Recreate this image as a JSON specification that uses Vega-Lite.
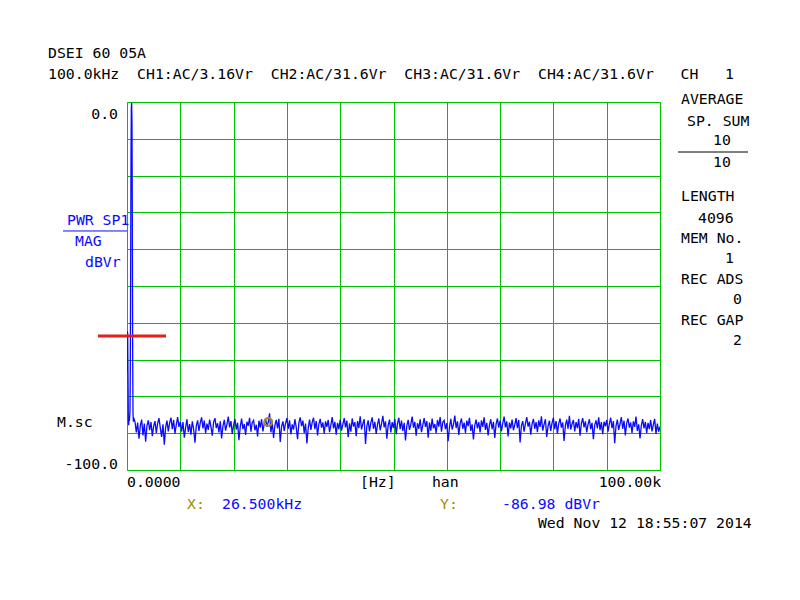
{
"$schema":"https://vega.github.io/schema/vega-lite/v6.json",
"width":533,"height":368,
"autosize":{"type":"none"},
"padding":{"left":127,"top":102,"right":140,"bottom":130},
"background":"white",
"config":{"view":{"stroke":"#00c000","strokeWidth":1},"text":{"font":"DejaVu Sans Mono","fontSize":14.8,"baseline":"middle"}},
"datasets":{
"trace":[
{"f":0,"v":-73.5},{"f":0.0625,"v":-62.3},{"f":0.125,"v":-63},{"f":0.1875,"v":-74},{"f":0.25,"v":-86.5},{"f":0.3125,"v":-87.8},{"f":0.375,"v":-85.9},{"f":0.4375,"v":-86.7},{"f":0.5,"v":-85.5},{"f":0.5625,"v":-84},{"f":0.625,"v":-72},{"f":0.6875,"v":-45},{"f":0.75,"v":-15},{"f":0.8125,"v":-1.5},{"f":0.875,"v":-0.2},{"f":0.9375,"v":-6},{"f":1.0,"v":-32},{"f":1.0625,"v":-68},{"f":1.125,"v":-84.5},{"f":1.1875,"v":-86.9},{"f":1.25,"v":-85.8},
{"f":1.5,"v":-86.9},{"f":1.75,"v":-89.8},{"f":2.0,"v":-87.1},{"f":2.25,"v":-91.5},{"f":2.5,"v":-88.0},{"f":2.75,"v":-86.3},{"f":3.0,"v":-90.6},{"f":3.25,"v":-87.4},{"f":3.5,"v":-92.3},{"f":3.75,"v":-87.9},{"f":4.0,"v":-86.5},{"f":4.25,"v":-89.2},{"f":4.5,"v":-87.0},{"f":4.75,"v":-90.8},{"f":5.0,"v":-88.1},{"f":5.25,"v":-86.7},{"f":5.5,"v":-89.9},{"f":5.75,"v":-87.3},{"f":6.0,"v":-85.9},{"f":6.25,"v":-88.6},{"f":6.5,"v":-91.0},{"f":6.75,"v":-87.6},{"f":7.0,"v":-93.1},{"f":7.25,"v":-88.4},{"f":7.5,"v":-86.6},{"f":7.75,"v":-89.5},{"f":8.0,"v":-87.2},{"f":8.25,"v":-85.8},{"f":8.5,"v":-88.9},{"f":8.75,"v":-86.4},{"f":9.0,"v":-90.1},{"f":9.25,"v":-87.7},{"f":9.5,"v":-85.6},{"f":9.75,"v":-88.3},{"f":10.0,"v":-86.9},{"f":10.25,"v":-89.6},{"f":10.5,"v":-87.0},{"f":10.75,"v":-91.2},
{"f":11.0,"v":-88.5},{"f":11.25,"v":-86.2},{"f":11.5,"v":-89.7},{"f":11.75,"v":-87.5},{"f":12.0,"v":-90.4},{"f":12.25,"v":-86.8},{"f":12.5,"v":-88.8},{"f":12.75,"v":-92.6},{"f":13.0,"v":-88.0},{"f":13.25,"v":-86.5},{"f":13.5,"v":-89.4},{"f":13.75,"v":-87.1},{"f":14.0,"v":-85.7},{"f":14.25,"v":-88.7},{"f":14.5,"v":-86.6},{"f":14.75,"v":-90.0},{"f":15.0,"v":-87.4},{"f":15.25,"v":-89.1},{"f":15.5,"v":-86.3},{"f":15.75,"v":-88.2},{"f":16.0,"v":-90.7},{"f":16.25,"v":-87.0},{"f":16.5,"v":-85.9},{"f":16.75,"v":-88.6},{"f":17.0,"v":-87.3},{"f":17.25,"v":-89.8},{"f":17.5,"v":-86.8},{"f":17.75,"v":-91.4},{"f":18.0,"v":-88.1},{"f":18.25,"v":-86.4},{"f":18.5,"v":-89.3},{"f":18.75,"v":-87.6},{"f":19.0,"v":-85.5},{"f":19.25,"v":-88.4},{"f":19.5,"v":-86.7},{"f":19.75,"v":-90.2},{"f":20.0,"v":-87.8},{"f":20.25,"v":-86.1},{"f":20.5,"v":-89.0},{"f":20.75,"v":-87.2},
{"f":21.0,"v":-91.9},{"f":21.25,"v":-88.3},{"f":21.5,"v":-86.0},{"f":21.75,"v":-88.9},{"f":22.0,"v":-87.5},{"f":22.25,"v":-90.5},{"f":22.5,"v":-86.9},{"f":22.75,"v":-88.0},{"f":23.0,"v":-85.8},{"f":23.25,"v":-89.6},{"f":23.5,"v":-87.1},{"f":23.75,"v":-86.5},{"f":24.0,"v":-89.2},{"f":24.25,"v":-87.7},{"f":24.5,"v":-90.9},{"f":24.75,"v":-86.6},{"f":25.0,"v":-88.5},{"f":25.25,"v":-86.2},{"f":25.5,"v":-89.5},{"f":25.75,"v":-87.4},{"f":26.0,"v":-86.0},{"f":26.25,"v":-88.3},{"f":26.5,"v":-86.98},{"f":26.75,"v":-84.6},{"f":27.0,"v":-89.8},{"f":27.25,"v":-87.0},{"f":27.5,"v":-91.3},{"f":27.75,"v":-87.9},{"f":28.0,"v":-86.4},{"f":28.25,"v":-88.7},{"f":28.5,"v":-86.1},{"f":28.75,"v":-92.4},{"f":29.0,"v":-88.2},{"f":29.25,"v":-86.8},{"f":29.5,"v":-89.4},{"f":29.75,"v":-87.3},{"f":30.0,"v":-85.9},{"f":30.25,"v":-88.8},{"f":30.5,"v":-86.5},{"f":30.75,"v":-90.3},
{"f":31.0,"v":-87.6},{"f":31.25,"v":-89.0},{"f":31.5,"v":-86.2},{"f":31.75,"v":-88.4},{"f":32.0,"v":-91.6},{"f":32.25,"v":-87.2},{"f":32.5,"v":-85.7},{"f":32.75,"v":-88.1},{"f":33.0,"v":-86.6},{"f":33.25,"v":-89.9},{"f":33.5,"v":-87.4},{"f":33.75,"v":-92.8},{"f":34.0,"v":-88.6},{"f":34.25,"v":-86.3},{"f":34.5,"v":-89.1},{"f":34.75,"v":-87.0},{"f":35.0,"v":-85.8},{"f":35.25,"v":-88.9},{"f":35.5,"v":-86.7},{"f":35.75,"v":-90.6},{"f":36.0,"v":-87.5},{"f":36.25,"v":-86.1},{"f":36.5,"v":-88.5},{"f":36.75,"v":-87.1},{"f":37.0,"v":-90.1},{"f":37.25,"v":-86.8},{"f":37.5,"v":-88.3},{"f":37.75,"v":-86.4},{"f":38.0,"v":-89.7},{"f":38.25,"v":-87.8},{"f":38.5,"v":-85.6},{"f":38.75,"v":-88.7},{"f":39.0,"v":-86.9},{"f":39.25,"v":-90.4},{"f":39.5,"v":-87.2},{"f":39.75,"v":-88.9},{"f":40.0,"v":-86.3},{"f":40.25,"v":-89.3},{"f":40.5,"v":-87.6},{"f":40.75,"v":-85.9},
{"f":41.0,"v":-88.4},{"f":41.25,"v":-86.6},{"f":41.5,"v":-91.1},{"f":41.75,"v":-87.3},{"f":42.0,"v":-89.6},{"f":42.25,"v":-86.0},{"f":42.5,"v":-88.2},{"f":42.75,"v":-87.0},{"f":43.0,"v":-90.8},{"f":43.25,"v":-86.7},{"f":43.5,"v":-88.6},{"f":43.75,"v":-85.4},{"f":44.0,"v":-89.0},{"f":44.25,"v":-87.4},{"f":44.5,"v":-86.2},{"f":44.75,"v":-92.9},{"f":45.0,"v":-88.1},{"f":45.25,"v":-86.5},{"f":45.5,"v":-89.5},{"f":45.75,"v":-87.1},{"f":46.0,"v":-85.7},{"f":46.25,"v":-88.8},{"f":46.5,"v":-86.9},{"f":46.75,"v":-90.2},{"f":47.0,"v":-87.7},{"f":47.25,"v":-86.0},{"f":47.5,"v":-89.2},{"f":47.75,"v":-87.5},{"f":48.0,"v":-85.3},{"f":48.25,"v":-88.4},{"f":48.5,"v":-86.8},{"f":48.75,"v":-91.5},{"f":49.0,"v":-87.9},{"f":49.25,"v":-86.3},{"f":49.5,"v":-89.8},{"f":49.75,"v":-87.0},{"f":50.0,"v":-88.6},{"f":50.25,"v":-86.1},{"f":50.5,"v":-90.3},{"f":50.75,"v":-87.4},
{"f":51.0,"v":-85.8},{"f":51.25,"v":-88.9},{"f":51.5,"v":-86.6},{"f":51.75,"v":-89.4},{"f":52.0,"v":-87.2},{"f":52.25,"v":-92.0},{"f":52.5,"v":-88.0},{"f":52.75,"v":-86.4},{"f":53.0,"v":-89.1},{"f":53.25,"v":-87.6},{"f":53.5,"v":-85.5},{"f":53.75,"v":-88.5},{"f":54.0,"v":-86.9},{"f":54.25,"v":-90.7},{"f":54.5,"v":-87.3},{"f":54.75,"v":-88.8},{"f":55.0,"v":-86.2},{"f":55.25,"v":-89.7},{"f":55.5,"v":-87.8},{"f":55.75,"v":-85.9},{"f":56.0,"v":-88.3},{"f":56.25,"v":-86.7},{"f":56.5,"v":-91.2},{"f":56.75,"v":-87.1},{"f":57.0,"v":-89.3},{"f":57.25,"v":-86.0},{"f":57.5,"v":-88.7},{"f":57.75,"v":-87.5},{"f":58.0,"v":-90.0},{"f":58.25,"v":-86.4},{"f":58.5,"v":-88.2},{"f":58.75,"v":-85.6},{"f":59.0,"v":-89.6},{"f":59.25,"v":-87.0},{"f":59.5,"v":-86.5},{"f":59.75,"v":-88.9},{"f":60.0,"v":-87.3},{"f":60.25,"v":-92.2},{"f":60.5,"v":-88.4},{"f":60.75,"v":-86.1},
{"f":61.0,"v":-89.0},{"f":61.25,"v":-87.7},{"f":61.5,"v":-85.2},{"f":61.75,"v":-88.6},{"f":62.0,"v":-86.8},{"f":62.25,"v":-90.5},{"f":62.5,"v":-87.4},{"f":62.75,"v":-86.0},{"f":63.0,"v":-88.8},{"f":63.25,"v":-87.1},{"f":63.5,"v":-89.9},{"f":63.75,"v":-86.6},{"f":64.0,"v":-88.1},{"f":64.25,"v":-85.8},{"f":64.5,"v":-89.4},{"f":64.75,"v":-87.6},{"f":65.0,"v":-91.7},{"f":65.25,"v":-87.9},{"f":65.5,"v":-86.3},{"f":65.75,"v":-88.7},{"f":66.0,"v":-87.0},{"f":66.25,"v":-89.8},{"f":66.5,"v":-86.5},{"f":66.75,"v":-88.3},{"f":67.0,"v":-85.7},{"f":67.25,"v":-89.1},{"f":67.5,"v":-87.2},{"f":67.75,"v":-90.6},{"f":68.0,"v":-87.8},{"f":68.25,"v":-86.2},{"f":68.5,"v":-88.9},{"f":68.75,"v":-86.9},{"f":69.0,"v":-91.3},{"f":69.25,"v":-87.5},{"f":69.5,"v":-86.0},{"f":69.75,"v":-88.5},{"f":70.0,"v":-86.6},{"f":70.25,"v":-89.5},{"f":70.5,"v":-87.3},{"f":70.75,"v":-85.5},
{"f":71.0,"v":-88.4},{"f":71.25,"v":-86.8},{"f":71.5,"v":-90.9},{"f":71.75,"v":-87.1},{"f":72.0,"v":-88.7},{"f":72.25,"v":-86.3},{"f":72.5,"v":-89.2},{"f":72.75,"v":-87.7},{"f":73.0,"v":-85.9},{"f":73.25,"v":-88.6},{"f":73.5,"v":-86.4},{"f":73.75,"v":-92.5},{"f":74.0,"v":-88.0},{"f":74.25,"v":-86.7},{"f":74.5,"v":-89.6},{"f":74.75,"v":-87.4},{"f":75.0,"v":-85.6},{"f":75.25,"v":-88.2},{"f":75.5,"v":-86.9},{"f":75.75,"v":-90.4},{"f":76.0,"v":-87.5},{"f":76.25,"v":-86.1},{"f":76.5,"v":-88.8},{"f":76.75,"v":-87.0},{"f":77.0,"v":-89.7},{"f":77.25,"v":-86.5},{"f":77.5,"v":-88.3},{"f":77.75,"v":-85.4},{"f":78.0,"v":-89.3},{"f":78.25,"v":-87.6},{"f":78.5,"v":-86.2},{"f":78.75,"v":-91.0},{"f":79.0,"v":-88.1},{"f":79.25,"v":-86.6},{"f":79.5,"v":-89.4},{"f":79.75,"v":-87.2},{"f":80.0,"v":-85.8},{"f":80.25,"v":-88.9},{"f":80.5,"v":-86.7},{"f":80.75,"v":-90.1},
{"f":81.0,"v":-87.4},{"f":81.25,"v":-86.0},{"f":81.5,"v":-88.5},{"f":81.75,"v":-87.1},{"f":82.0,"v":-92.1},{"f":82.25,"v":-87.9},{"f":82.5,"v":-86.3},{"f":82.75,"v":-88.8},{"f":83.0,"v":-85.3},{"f":83.25,"v":-89.0},{"f":83.5,"v":-87.5},{"f":83.75,"v":-86.4},{"f":84.0,"v":-89.5},{"f":84.25,"v":-87.0},{"f":84.5,"v":-88.6},{"f":84.75,"v":-86.1},{"f":85.0,"v":-90.7},{"f":85.25,"v":-87.3},{"f":85.5,"v":-85.9},{"f":85.75,"v":-88.4},{"f":86.0,"v":-86.8},{"f":86.25,"v":-89.8},{"f":86.5,"v":-87.6},{"f":86.75,"v":-86.2},{"f":87.0,"v":-88.9},{"f":87.25,"v":-87.2},{"f":87.5,"v":-91.6},{"f":87.75,"v":-87.8},{"f":88.0,"v":-86.5},{"f":88.25,"v":-88.7},{"f":88.5,"v":-85.7},{"f":88.75,"v":-89.2},{"f":89.0,"v":-87.0},{"f":89.25,"v":-90.3},{"f":89.5,"v":-86.9},{"f":89.75,"v":-88.1},{"f":90.0,"v":-86.4},{"f":90.25,"v":-89.6},{"f":90.5,"v":-87.4},{"f":90.75,"v":-85.8},
{"f":91.0,"v":-88.6},{"f":91.25,"v":-86.7},{"f":91.5,"v":-92.7},{"f":91.75,"v":-88.0},{"f":92.0,"v":-86.3},{"f":92.25,"v":-89.1},{"f":92.5,"v":-87.5},{"f":92.75,"v":-85.6},{"f":93.0,"v":-88.8},{"f":93.25,"v":-86.6},{"f":93.5,"v":-90.6},{"f":93.75,"v":-87.3},{"f":94.0,"v":-86.0},{"f":94.25,"v":-88.5},{"f":94.5,"v":-87.1},{"f":94.75,"v":-89.9},{"f":95.0,"v":-86.8},{"f":95.25,"v":-88.3},{"f":95.5,"v":-85.5},{"f":95.75,"v":-89.4},{"f":96.0,"v":-87.6},{"f":96.25,"v":-91.4},{"f":96.5,"v":-87.9},{"f":96.75,"v":-86.2},{"f":97.0,"v":-88.7},{"f":97.25,"v":-86.9},{"f":97.5,"v":-90.0},{"f":97.75,"v":-87.2},{"f":98.0,"v":-88.9},{"f":98.25,"v":-86.4},{"f":98.5,"v":-89.5},{"f":98.75,"v":-87.7},{"f":99.0,"v":-86.1},{"f":99.25,"v":-90.2},{"f":99.5,"v":-87.4},{"f":99.75,"v":-89.6},{"f":100.0,"v":-88.2}
],
"blackLeft":[
{"f":-14.82,"v":13.04,"t":"DSEI 60 05A"},
{"f":-14.82,"v":7.34,"t":"100.0kHz\u00a0\u00a0CH1:AC/3.16Vr\u00a0\u00a0CH2:AC/31.6Vr\u00a0\u00a0CH3:AC/31.6Vr\u00a0\u00a0CH4:AC/31.6Vr\u00a0\u00a0\u00a0CH\u00a0\u00a0\u00a01"},
{"f":-13.13,"v":-87.2,"t":"M.sc"},
{"f":0,"v":-103.5,"t":"0.0000"},
{"f":43.71,"v":-103.5,"t":"[Hz]"},
{"f":57.2,"v":-103.5,"t":"han"},
{"f":77.1,"v":-114.7,"t":"Wed Nov 12 18:55:07 2014"},
{"f":103.94,"v":0.54,"t":"AVERAGE"},
{"f":105.07,"v":-5.3,"t":"SP. SUM"},
{"f":109.94,"v":-10.73,"t":"10"},
{"f":109.94,"v":-16.71,"t":"10"},
{"f":103.94,"v":-25.95,"t":"LENGTH"},
{"f":107.13,"v":-31.79,"t":"4096"},
{"f":103.94,"v":-37.23,"t":"MEM No."},
{"f":112.2,"v":-42.66,"t":"1"},
{"f":103.94,"v":-48.37,"t":"REC ADS"},
{"f":113.7,"v":-53.8,"t":"0"},
{"f":103.94,"v":-59.5,"t":"REC GAP"},
{"f":113.7,"v":-64.95,"t":"2"}
],
"blackRight":[
{"f":-1.69,"v":-3.53,"t":"0.0"},
{"f":-1.69,"v":-98.6,"t":"-100.0"},
{"f":100.2,"v":-103.5,"t":"100.00k"}
],
"blueLeft":[
{"f":-11.26,"v":-32.3,"t":"PWR SP1"},
{"f":-9.76,"v":-38.0,"t":"MAG"},
{"f":-7.88,"v":-43.75,"t":"dBVr"},
{"f":17.82,"v":-109.5,"t":"26.500kHz"},
{"f":70.36,"v":-109.5,"t":"-86.98 dBVr"}
],
"oliveLeft":[
{"f":11.26,"v":-109.5,"t":"X:"},
{"f":58.72,"v":-109.5,"t":"Y:"}
]
},
"encoding":{
  "x":{"field":"f","type":"quantitative","scale":{"domain":[0,100],"nice":false,"zero":false},
       "axis":{"values":[0,10,20,30,40,50,60,70,80,90,100],"grid":true,"gridColor":"#00c000","gridOpacity":1,"labels":false,"ticks":false,"domain":false,"title":null}},
  "y":{"field":"v","type":"quantitative","scale":{"domain":[-100,0],"nice":false,"zero":false},
       "axis":{"values":[-100,-90,-80,-70,-60,-50,-40,-30,-20,-10,0],"grid":true,"gridColor":"#00c000","gridOpacity":1,"labels":false,"ticks":false,"domain":false,"title":null}}
},
"layer":[
{"data":{"name":"trace"},"mark":{"type":"line","color":"#0a0aff","strokeWidth":1.3,"clip":true}},
{"data":{"values":[{"f":-5.44,"f2":7.32,"v":-63.6}]},"mark":{"type":"rule","color":"#e0201c","strokeWidth":3},
 "encoding":{"x2":{"field":"f2"}}},
{"data":{"values":[{"f":103.38,"f2":116.51,"v":-13.59}]},"mark":{"type":"rule","color":"black","strokeWidth":1},
 "encoding":{"x2":{"field":"f2"}}},
{"data":{"values":[{"f":-12.0,"f2":0,"v":-35.05}]},"mark":{"type":"rule","color":"#0a0aff","strokeWidth":1},
 "encoding":{"x2":{"field":"f2"}}},
{"data":{"values":[{"f":26.5,"v":-86.98}]},"mark":{"type":"point","shape":"circle","filled":false,"color":"#a08c1e","stroke":"#a08c1e","strokeWidth":2.2,"size":60,"opacity":1}},
{"data":{"name":"blackLeft"},"mark":{"type":"text","align":"left","color":"black"},
 "encoding":{"text":{"field":"t"}}},
{"data":{"name":"blackRight"},"mark":{"type":"text","align":"right","color":"black"},
 "encoding":{"text":{"field":"t"}}},
{"data":{"name":"blueLeft"},"mark":{"type":"text","align":"left","color":"#0a0aff"},
 "encoding":{"text":{"field":"t"}}},
{"data":{"name":"oliveLeft"},"mark":{"type":"text","align":"left","color":"#a08c00"},
 "encoding":{"text":{"field":"t"}}}
]
}
